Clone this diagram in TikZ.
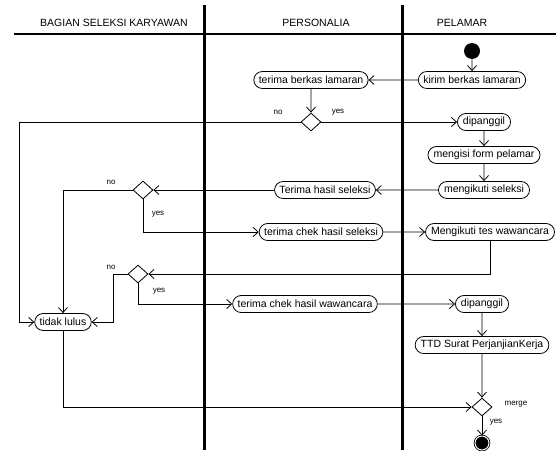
\documentclass[tikz,border=0pt]{standalone}
\usepackage{fontspec}
\setmainfont{Liberation Sans}
\usetikzlibrary{shapes.geometric, shapes.misc, arrows.meta}

\begin{document}
\begin{tikzpicture}[x = 1pt, y = -1pt, line width = 0.8pt,
                        act/.style = {rounded rectangle, draw, minimum height = 17pt, inner xsep = 4pt, font = \fontsize{10.5}{12}\selectfont},
                        dec/.style = {diamond, draw, minimum width = 20pt, minimum height = 18pt, inner sep = 0pt},
                        head/.style = {font = \fontsize{10.5}{12}\selectfont},
                        lbl/.style = {font = \fontsize{8}{9}\selectfont},
                        lane/.style = {line width = 3pt},
                        startdot/.style = {circle, fill = black, minimum size = 16pt, inner sep = 0pt},
                        enddot/.style = {circle, draw, fill = black, double, double distance = 1pt, minimum size = 14pt, inner sep = 0pt},
                        flow/.style = {-{Straight Barb[length = 5pt, width = 9pt]}}]
      \useasboundingbox (0, 0) rectangle (556, 450);
      % swimlanes
      \draw [line width = 2pt] (14, 34) -- (556, 34);
      \draw [lane] (204, 5) -- (204, 450);
      \draw [lane] (402, 5) -- (402, 450);
      \node [head] (h1) at (114, 23){BAGIAN SELEKSI KARYAWAN};
      \node [head] (h2) at (316, 23){PERSONALIA};
      \node [head] (h3) at (462, 23){PELAMAR};
      % activities
      \node [startdot] (s0) at (472, 51){};
      \node [act] (p1) at (472, 80){kirim berkas lamaran};
      \node [act] (r1) at (311, 80){terima berkas lamaran};
      \node [dec] (d1) at (311, 122){};
      \node [act] (p2) at (484, 122){dipanggil};
      \node [act] (p3) at (484, 155){mengisi form pelamar};
      \node [act] (p4) at (484, 190){mengikuti seleksi};
      \node [act] (r2) at (325, 190){Terima hasil seleksi};
      \node [dec] (d2) at (143, 190){};
      \node [act] (r3) at (321, 232){terima chek hasil seleksi};
      \node [act] (p5) at (490, 232){Mengikuti tes wawancara};
      \node [dec] (d3) at (138, 274){};
      \node [act] (r4) at (305, 304){terima chek hasil wawancara};
      \node [act] (p6) at (482, 304){dipanggil};
      \node [act] (p7) at (482, 345){TTD Surat PerjanjianKerja};
      \node [act] (b1) at (63, 322){tidak lulus};
      \node [dec] (d4) at (482, 407){};
      \node [enddot] (e0) at (482, 443){};
      \coordinate (c1) at (19, 122);
      \coordinate (c2) at (113, 274);
      % flows
      \draw [flow] (s0) -- (p1);
      \draw [flow] (p1) -- (r1);
      \draw [flow] (r1) -- (d1);
      \draw [flow] (d1) -- (p2);
      \draw [flow] (d1) -- (c1) |- (b1);
      \draw [flow] (p2) -- (p3);
      \draw [flow] (p3) -- (p4);
      \draw [flow] (p4) -- (r2);
      \draw [flow] (r2) -- (d2);
      \draw [flow] (d2) -| (b1);
      \draw [flow] (d2) |- (r3);
      \draw [flow] (r3) -- (p5);
      \draw [flow] (p5) |- (d3);
      \draw [flow] (d3) -- (c2) |- (b1);
      \draw [flow] (d3) |- (r4);
      \draw [flow] (r4) -- (p6);
      \draw [flow] (p6) -- (p7);
      \draw [flow] (p7) -- (d4);
      \draw [flow] (b1) |- (d4);
      \draw [flow] (d4) -- (e0);
      % guards
      \node [lbl] (n1) at (278, 112){no};
      \node [lbl] (y1) at (338, 112){yes};
      \node [lbl] (n2) at (111, 182){no};
      \node [lbl] (y2) at (158, 214){yes};
      \node [lbl] (n3) at (111, 267){no};
      \node [lbl] (y3) at (159, 291){yes};
      \node [lbl] (m4) at (516, 404){merge};
      \node [lbl] (y4) at (496, 422){yes};
    \end{tikzpicture}
\end{document}
